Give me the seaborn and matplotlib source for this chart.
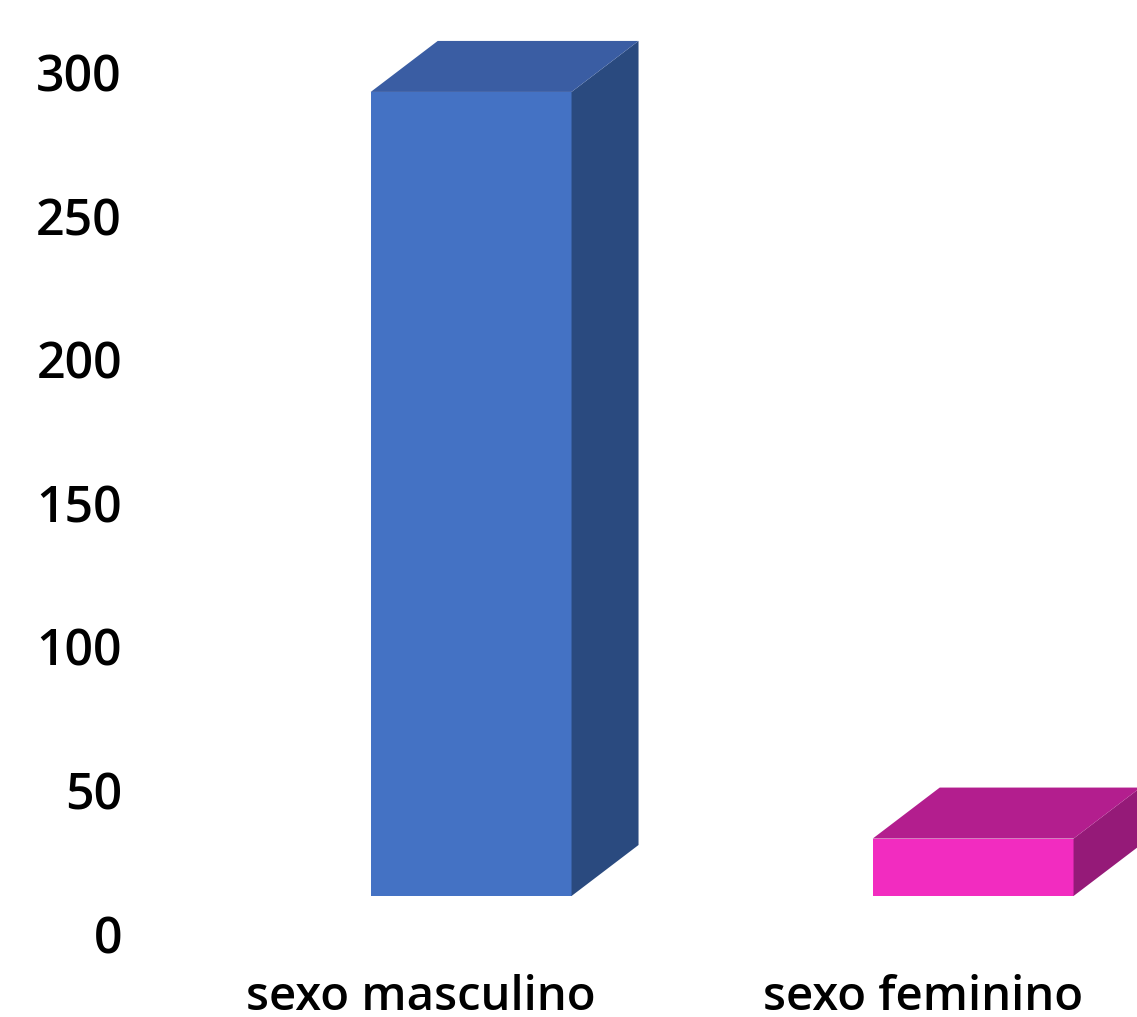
import numpy as np
import pandas as pd
import matplotlib
matplotlib.use("Agg")
import matplotlib.pyplot as plt
import seaborn as sns
from matplotlib.patches import Polygon
from matplotlib.transforms import Affine2D, IdentityTransform

# Data
categories = ["sexo masculino", "sexo feminino"]
counts = [280, 20]
y_ticks = [0, 50, 100, 150, 200, 250, 300]

# Face colours of the 3D columns
front_colors = ["#4472C4", "#F22CC0"]
top_colors = ["#3A5DA3", "#B31E8E"]
side_colors = ["#2A4A7F", "#951A78"]

sns.set_theme(style="white")
plt.rcParams["font.family"] = ["Open Sans", "DejaVu Sans"]

W, H, DPI = 1137, 1017, 100
fig = plt.figure(figsize=(W / DPI, H / DPI), dpi=DPI)
fig.patch.set_facecolor("white")
ax = fig.add_axes([140 / W, 83 / H, (W - 140) / W, (944.5 - 83) / H])
ax.set_facecolor("none")

df = pd.DataFrame({"sexo": categories, "n": counts})
sns.barplot(data=df, x="sexo", y="n", hue="sexo", palette=front_colors,
            width=0.4, saturation=1, legend=False, linewidth=0, ax=ax)

ax.set_xlim(-0.56, 1.426)
ax.set_ylim(0, 300)
ax.set_yticks(y_ticks)
ax.set_yticklabels([str(t) for t in y_ticks])
ax.set_xlabel("")
ax.set_ylabel("")
sns.despine(ax=ax, left=True, bottom=True)
ax.grid(False)
ax.tick_params(axis="y", length=0, pad=13, labelsize=36, labelcolor="black")
ax.tick_params(axis="x", length=0, pad=29, labelsize=34, labelcolor="black")
for lbl in ax.get_yticklabels() + ax.get_xticklabels():
    lbl.set_fontweight("semibold")

# Columns stand back from the front edge of the floor; the depth gives the 3D look
floor_shift = Affine2D().translate(50, 38)
dx, dy = 67, 51

fig.canvas.draw()
for bar, top_c, side_c in zip(ax.patches, top_colors, side_colors):
    tr = ax.transData + floor_shift
    bar.set_transform(tr)
    bar.set_clip_on(False)
    x0, y0 = bar.get_x(), bar.get_y()
    x1, y1 = x0 + bar.get_width(), y0 + bar.get_height()
    (px0, py0), (px1, py1) = tr.transform([(x0, y0), (x1, y1)])
    top = [(px0, py1), (px1, py1), (px1 + dx, py1 + dy), (px0 + dx, py1 + dy)]
    side = [(px1, py0), (px1 + dx, py0 + dy), (px1 + dx, py1 + dy), (px1, py1)]
    fig.add_artist(Polygon(side, closed=True, facecolor=side_c, edgecolor="none",
                           transform=IdentityTransform()))
    fig.add_artist(Polygon(top, closed=True, facecolor=top_c, edgecolor="none",
                           transform=IdentityTransform()))

fig.savefig("out.png", dpi=DPI, facecolor="white")
